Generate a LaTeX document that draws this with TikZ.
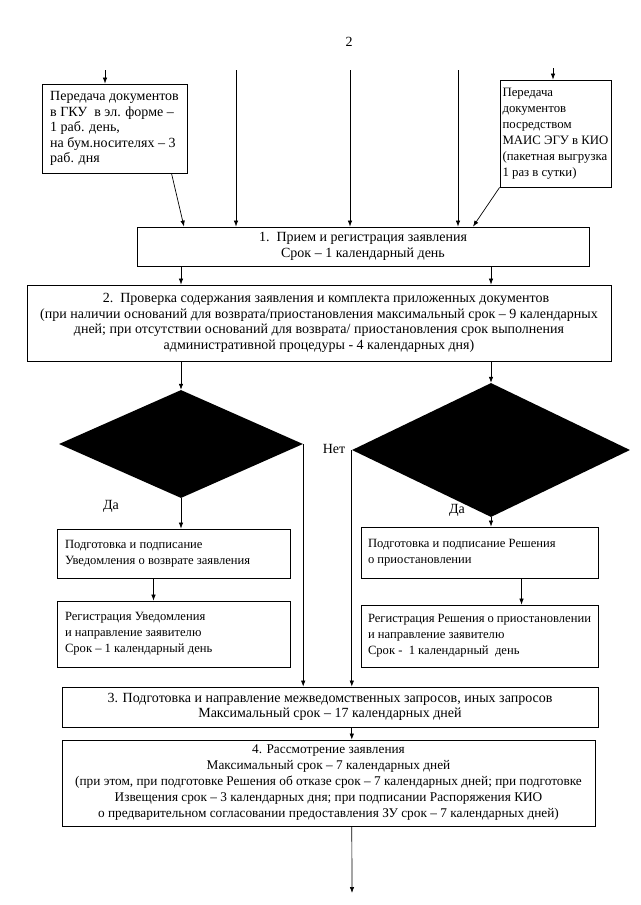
\documentclass[tikz,border=0pt]{standalone}
\usepackage{fontspec}
\setmainfont{Liberation Serif}
\usetikzlibrary{arrows.meta,shapes.geometric}
\tikzset{
  box/.style={draw, line width=0.8pt, inner sep=0pt, font=\fontsize{14}{15.5}\selectfont},
  lbox/.style={box, align=flush left, inner xsep=8pt, font=\fontsize{12.6}{16}\selectfont},
  cbox/.style={box, align=center},
  dec/.style={diamond, fill=black, inner sep=0pt},
  arr/.style={-{Latex[length=6pt,width=4.5pt]}, line width=0.7pt},
  lbl/.style={font=\fontsize{14}{15}\selectfont},
}
\begin{document}
\begin{tikzpicture}[x=1pt,y=-1pt]
\useasboundingbox (0,0) rectangle (640,905);
\node[lbl] (page) at (349,42) {2};

% входы
\node[box, align=left, minimum width=145pt, minimum height=89pt] (a) at (114.5,128.5)
  {Передача документов\\в ГКУ \ в эл. форме –\\1 раб. день,\\на бум.носителях – 3\\раб. дня};
\node[box, align=left, minimum width=111pt, minimum height=107pt, font=\fontsize{12.8}{16}\selectfont] (b) at (555.5,133.5)
  {Передача\\документов\\посредством\\МАИС ЭГУ в КИО\\(пакетная выгрузка\\1 раз в сутки)};
\coordinate (ta) at (105,70);
\coordinate (tb) at (553,68);
\coordinate (t1) at (236,70);
\coordinate (t2) at (350,70);
\coordinate (t3) at (458,70);

\node[cbox, minimum width=452pt, minimum height=39pt] (1) at (363,246.5)
  {1.\enspace Прием и регистрация заявления\\Срок – 1 календарный день};
\node[cbox, minimum width=584pt, minimum height=76pt] (2) at (319,323)
  {\quad 2.\enspace Проверка содержания заявления и комплекта приложенных документов\\
   (при наличии оснований для возврата/приостановления максимальный срок – 9 календарных\\
   дней; при отсутствии оснований для возврата/ приостановления срок выполнения\\
   административной процедуры - 4 календарных дня)};

\node[dec, minimum width=244pt, minimum height=108pt] (d1) at (181,444) {};
\node[dec, minimum width=278pt, minimum height=134pt] (d2) at (491,450) {};
\node[lbl] (da1) at (111,506) {Да};
\node[lbl] (da2) at (457,510) {Да};
\node[lbl] (net) at (334,449) {Нет};

\node[lbox, text width=217pt, minimum height=49pt] (l1) at (173.5,553.5)
  {Подготовка и подписание\\Уведомления о возврате заявления};
\node[lbox, text width=217pt, minimum height=66pt] (l2) at (173.5,634)
  {Регистрация Уведомления\\и направление заявителю\\Срок – 1 календарный день};
\node[lbox, text width=223pt, minimum height=51pt, inner xsep=7pt] (r1) at (479.5,552.5)
  {Подготовка и подписание Решения\\о приостановлении};
\node[lbox, text width=223pt, minimum height=62pt, inner xsep=7pt] (r2) at (479.5,636)
  {Регистрация Решения о приостановлении\\и направление заявителю\\Срок - \ 1 календарный \ день};

\node[cbox, minimum width=536pt, minimum height=40pt] (3) at (330,707)
  {3. Подготовка и направление межведомственных запросов, иных запросов\\Максимальный срок – 17 календарных дней};
\node[cbox, minimum width=533pt, minimum height=86pt, font=\fontsize{13.3}{16}\selectfont] (4) at (328.5,783)
  {4. Рассмотрение заявления\\Максимальный срок – 7 календарных дней\\
   (при этом, при подготовке Решения об отказе срок – 7 календарных дней; при подготовке\\
   Извещения срок – 3 календарных дня; при подписании Распоряжения КИО\\
   о предварительном согласовании предоставления ЗУ срок – 7 календарных дней)};
\coordinate (out) at (352,893);

\path[draw,arr] (ta) -- (ta |- a.north);
\path[draw,arr] (tb) -- (tb |- b.north);
\path[draw,arr] (t1) -- (t1 |- 1.north);
\path[draw,arr] (t2) -- (t2 |- 1.north);
\path[draw,arr] (t3) -- (t3 |- 1.north);
\path[draw,arr] ([xshift=57pt]a.south) -- ([xshift=-179pt]1.north);
\path[draw,arr] (b.south west) -- ([xshift=110pt]1.north);
\path[draw,arr] (1.south -| d1.north) -- (2.north -| d1.north);
\path[draw,arr] (1.south -| d2.north) -- (2.north -| d2.north);
\path[draw,arr] (2.south -| d1.north) -- (d1.north);
\path[draw,arr] (2.south -| d2.north) -- (d2.north);
\path[draw,arr] (d1.south) -- (d1.south |- l1.north);
\path[draw,arr] (d2.south) -- (d2.south |- r1.north);
\path[draw,arr] ([xshift=-20pt]l1.south) -- ([xshift=-20pt]l2.north);
\path[draw,arr] ([xshift=42pt]r1.south) -- ([xshift=42pt]r2.north);
\path[draw,arr] (d1.east) -- (d1.east |- 3.north);
\path[draw,arr] (d2.west) -- (d2.west |- 3.north);
\path[draw,arr] (d2.west |- 3.south) -- (d2.west |- 4.north);
\path[draw,arr] (d2.west |- 4.south) -- (out);
\end{tikzpicture}
\end{document}
